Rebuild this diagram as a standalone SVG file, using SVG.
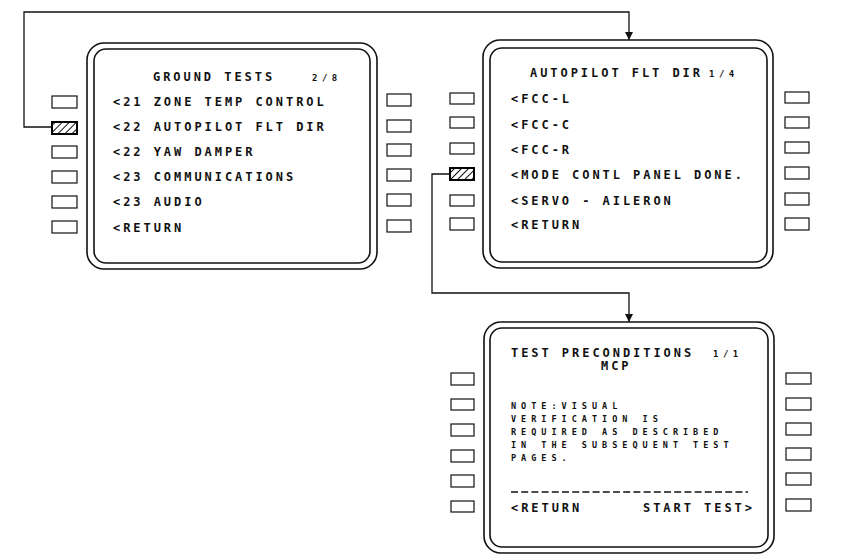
<svg xmlns="http://www.w3.org/2000/svg" width="842" height="559" viewBox="0 0 842 559">
<style>
.frame{fill:none;stroke:#111;stroke-width:1.6}
.btn{fill:#fff;stroke:#111;stroke-width:1.2}
.hbtn{fill:url(#hatch);stroke:#000;stroke-width:2}
.t{font-family:"DejaVu Sans Mono","Liberation Mono",monospace;font-weight:bold;font-size:12px;letter-spacing:2.95px;fill:#111}
.s{font-family:"DejaVu Sans Mono","Liberation Mono",monospace;font-weight:bold;font-size:9px;letter-spacing:4.5px;fill:#111}
.n{font-family:"DejaVu Sans Mono","Liberation Mono",monospace;font-weight:bold;font-size:8.5px;letter-spacing:5px;fill:#111}
.wire{fill:none;stroke:#111;stroke-width:1.3}
</style>
<defs>
<pattern id="hatch" width="5" height="5" patternUnits="userSpaceOnUse" patternTransform="rotate(45)">
<rect width="5" height="5" fill="#fff"/>
<line x1="0" y1="0" x2="0" y2="5" stroke="#111" stroke-width="2"/>
</pattern>
<marker id="arr" viewBox="0 0 10 10" refX="10" refY="5" markerWidth="8" markerHeight="8" markerUnits="userSpaceOnUse" orient="auto">
<path d="M0,0 L10,5 L0,10 z" fill="#111"/>
</marker>
</defs>
<rect width="842" height="559" fill="#fff"/>

<g id="connectors">
<path class="wire" d="M52,127 H24 V12 H629 V40" marker-end="url(#arr)"/>
<path class="wire" d="M450,174 H432 V293 H629 V322" marker-end="url(#arr)"/>
</g>

<g id="screen-ground-tests">
<rect class="frame" x="87" y="43" width="290" height="226" rx="17"/>
<rect class="frame" x="94" y="49" width="276" height="214" rx="12"/>
<rect class="btn" x="52" y="96" width="25" height="12"/>
<rect class="hbtn" x="52" y="122" width="25" height="12"/>
<rect class="btn" x="52" y="146" width="25" height="12"/>
<rect class="btn" x="52" y="171" width="25" height="12"/>
<rect class="btn" x="52" y="196" width="25" height="12"/>
<rect class="btn" x="52" y="221" width="25" height="12"/>
<rect class="btn" x="387" y="94" width="24" height="12"/>
<rect class="btn" x="387" y="120" width="24" height="12"/>
<rect class="btn" x="387" y="144" width="24" height="12"/>
<rect class="btn" x="387" y="169" width="24" height="12"/>
<rect class="btn" x="387" y="194" width="24" height="12"/>
<rect class="btn" x="387" y="220" width="24" height="12"/>
<text class="t" x="153" y="81">GROUND TESTS</text>
<text class="s" x="312" y="81">2/8</text>
<text class="t" x="113" y="106">&lt;21 ZONE TEMP CONTROL</text>
<text class="t" x="113" y="131">&lt;22 AUTOPILOT FLT DIR</text>
<text class="t" x="113" y="156">&lt;22 YAW DAMPER</text>
<text class="t" x="113" y="181">&lt;23 COMMUNICATIONS</text>
<text class="t" x="113" y="206">&lt;23 AUDIO</text>
<text class="t" x="113" y="232">&lt;RETURN</text>
</g>

<g id="screen-autopilot">
<rect class="frame" x="483" y="40" width="290" height="228" rx="17"/>
<rect class="frame" x="490" y="48" width="277" height="214" rx="12"/>
<rect class="btn" x="450" y="93" width="24" height="11"/>
<rect class="btn" x="450" y="117" width="24" height="11"/>
<rect class="btn" x="450" y="143" width="24" height="11"/>
<rect class="hbtn" x="450" y="168" width="24" height="12"/>
<rect class="btn" x="450" y="195" width="24" height="11"/>
<rect class="btn" x="450" y="218" width="24" height="12"/>
<rect class="btn" x="785" y="92" width="24" height="11"/>
<rect class="btn" x="785" y="117" width="24" height="11"/>
<rect class="btn" x="785" y="142" width="24" height="11"/>
<rect class="btn" x="785" y="167" width="24" height="12"/>
<rect class="btn" x="785" y="193" width="24" height="12"/>
<rect class="btn" x="785" y="218" width="24" height="12"/>
<text class="t" x="530" y="77">AUTOPILOT FLT DIR</text>
<text class="s" x="709" y="77">1/4</text>
<text class="t" x="511" y="103">&lt;FCC-L</text>
<text class="t" x="511" y="129">&lt;FCC-C</text>
<text class="t" x="511" y="154">&lt;FCC-R</text>
<text class="t" x="511" y="179">&lt;MODE CONTL PANEL</text>
<text class="t" x="694" y="179">DONE.</text>
<text class="t" x="511" y="205">&lt;SERVO - AILERON</text>
<text class="t" x="511" y="229">&lt;RETURN</text>
</g>

<g id="screen-test-preconditions">
<rect class="frame" x="484" y="322" width="290" height="231" rx="17"/>
<rect class="frame" x="490" y="328" width="278" height="219" rx="12"/>
<rect class="btn" x="451" y="373" width="23" height="12"/>
<rect class="btn" x="451" y="399" width="23" height="11"/>
<rect class="btn" x="451" y="424" width="23" height="12"/>
<rect class="btn" x="451" y="450" width="23" height="12"/>
<rect class="btn" x="451" y="475" width="23" height="12"/>
<rect class="btn" x="451" y="501" width="23" height="11"/>
<rect class="btn" x="786" y="373" width="25" height="11"/>
<rect class="btn" x="786" y="398" width="25" height="12"/>
<rect class="btn" x="786" y="423" width="25" height="12"/>
<rect class="btn" x="786" y="448" width="25" height="12"/>
<rect class="btn" x="786" y="473" width="25" height="12"/>
<rect class="btn" x="786" y="499" width="25" height="12"/>
<text class="t" x="511" y="357">TEST PRECONDITIONS</text>
<text class="s" x="713" y="357">1/1</text>
<text class="t" x="601" y="370" font-size="10" letter-spacing="3px">MCP</text>
<text class="n" x="511" y="409">NOTE:VISUAL</text>
<text class="n" x="511" y="422">VERIFICATION IS</text>
<text class="n" x="511" y="435">REQUIRED AS DESCRIBED</text>
<text class="n" x="511" y="448">IN THE SUBSEQUENT TEST</text>
<text class="n" x="511" y="461">PAGES.</text>
<line x1="511" y1="492" x2="748" y2="492" stroke="#111" stroke-width="1.3" stroke-dasharray="7 3.2"/>
<text class="t" x="511" y="512">&lt;RETURN</text>
<text class="t" x="643" y="512">START TEST&gt;</text>
</g>
</svg>
